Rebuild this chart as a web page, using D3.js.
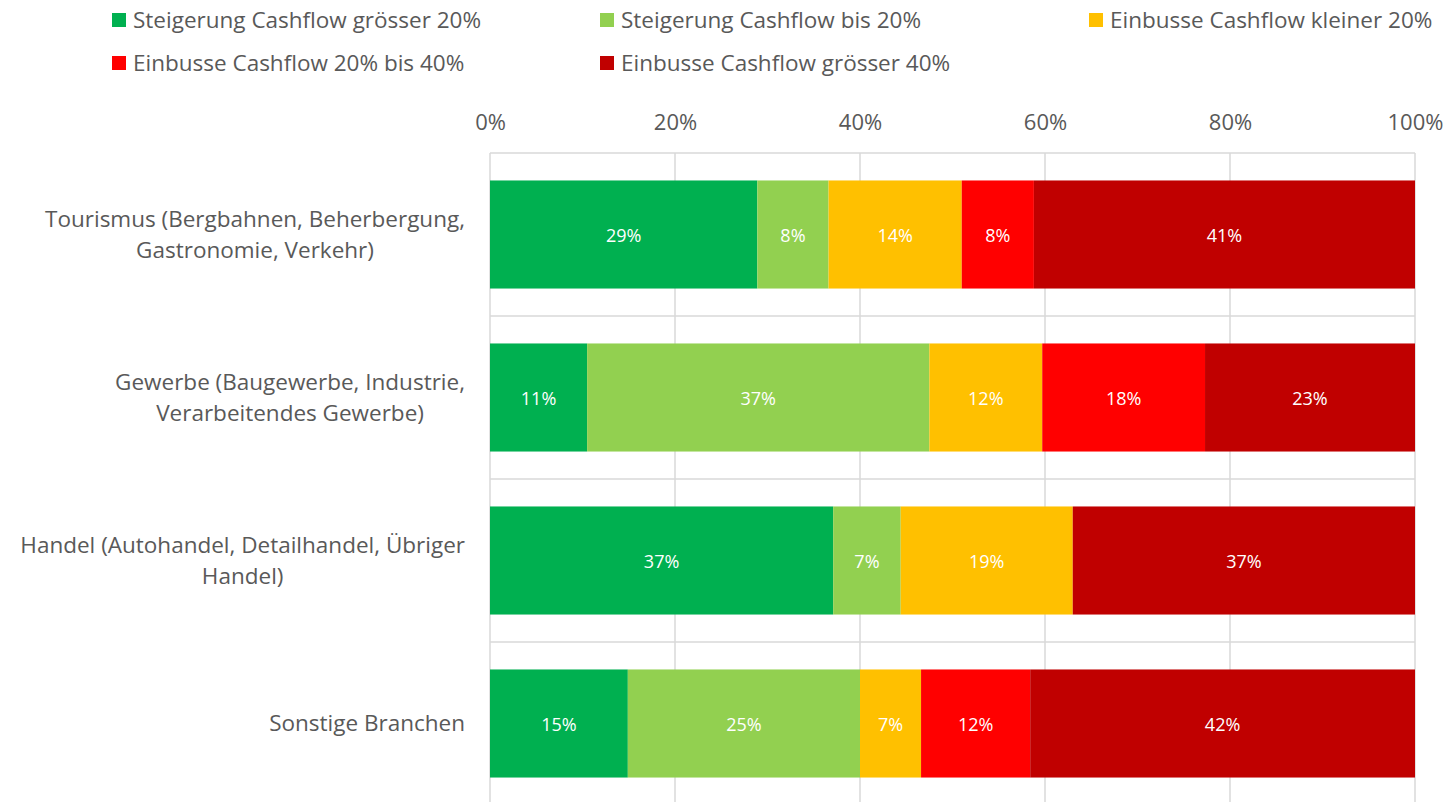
<!DOCTYPE html>
<html lang="de">
<head>
<meta charset="UTF-8">
<title>Cashflow nach Branchen</title>
<script src="https://d3js.org/d3.v7.min.js"></script>
<style>
  body { margin: 0; background: #fff; }
  text { font-family: "Open Sans", sans-serif; fill: #595959; }
</style>
</head>
<body>
<script>

// data (percent of companies)
var categories = [
    ["Tourismus (Bergbahnen, Beherbergung,", "Gastronomie, Verkehr)"],
    ["Gewerbe (Baugewerbe, Industrie,", "Verarbeitendes Gewerbe)"],
    ["Handel (Autohandel, Detailhandel, Übriger", "Handel)"],
    ["Sonstige Branchen"]
];
var seriesNames = [
    "Steigerung Cashflow grösser 20%",
    "Steigerung Cashflow bis 20%",
    "Einbusse Cashflow kleiner 20%",
    "Einbusse Cashflow 20% bis 40%",
    "Einbusse Cashflow grösser 40%"
];
var steigerungGross = [28.9, 10.5, 37.1, 14.9];
var steigerungBis20 = [7.7, 37.0, 7.3, 25.1];
var einbusseKlein   = [14.4, 12.2, 18.6, 6.6];
var einbusse20bis40 = [7.8, 17.6, 0, 11.8];
var einbusseGross   = [41.2, 22.7, 37.0, 41.6];
var tickValues = [0, 20, 40, 60, 80, 100];

var colors = ["#00B050", "#92D050", "#FFC000", "#FF0000", "#C00000"];

var W = 1449, H = 802;
var svg = d3.select("body").append("svg")
    .attr("width", W)
    .attr("height", H);

var x = d3.scaleLinear().domain([0, 100]).range([490, 1415]);
var y = d3.scaleBand()
    .domain(d3.range(categories.length))
    .range([153, 805])
    .paddingInner(0.337)
    .paddingOuter(0.337 / 2);

var seriesData = [steigerungGross, steigerungBis20, einbusseKlein, einbusse20bis40, einbusseGross];

// rows for stack
var rows = categories.map(function (c, i) {
    var r = { idx: i };
    seriesData.forEach(function (s, k) { r["s" + k] = s[i]; });
    return r;
});
var stack = d3.stack().keys(seriesData.map(function (s, k) { return "s" + k; }));
var layers = stack(rows);

// gridlines
var grid = svg.append("g");
grid.selectAll(".vgrid")
    .data(tickValues)
    .enter().append("line")
    .attr("x1", function (d) { return x(d); })
    .attr("x2", function (d) { return x(d); })
    .attr("y1", 153).attr("y2", 805)
    .attr("stroke", "#d9d9d9").attr("stroke-width", 1.5);

var bounds = d3.range(categories.length + 1).map(function (i) { return 153 + i * y.step(); });
grid.selectAll(".hgrid")
    .data(bounds)
    .enter().append("line")
    .attr("x1", 490).attr("x2", 1415)
    .attr("y1", function (d) { return d; })
    .attr("y2", function (d) { return d; })
    .attr("stroke", "#d9d9d9").attr("stroke-width", 1.5);

// top axis labels
var xAxis = d3.axisTop(x)
    .tickValues(tickValues)
    .tickSize(0)
    .tickPadding(0)
    .tickFormat(function (d) { return d + "%"; });
var ax = svg.append("g").attr("transform", "translate(0,130)").call(xAxis);
ax.select(".domain").remove();
ax.selectAll("text")
    .attr("font-family", "Open Sans")
    .attr("font-size", 22)
    .attr("fill", "#595959");

// bars
var layerG = svg.selectAll(".layer")
    .data(layers)
    .enter().append("g")
    .attr("fill", function (d, k) { return colors[k]; });

layerG.selectAll("rect")
    .data(function (d) { return d; })
    .enter().append("rect")
    .attr("x", function (d) { return x(d[0]); })
    .attr("width", function (d) { return x(d[1]) - x(d[0]); })
    .attr("y", function (d) { return y(d.data.idx); })
    .attr("height", y.bandwidth());

layerG.selectAll("text")
    .data(function (d) { return d.filter(function (e) { return e[1] - e[0] > 0; }); })
    .enter().append("text")
    .attr("x", function (d) { return (x(d[0]) + x(d[1])) / 2; })
    .attr("y", function (d) { return y(d.data.idx) + y.bandwidth() / 2 + 1; })
    .attr("dy", "0.35em")
    .attr("text-anchor", "middle")
    .style("fill", "#fff")
    .attr("font-size", 18)
    .text(function (d) { return Math.round(d[1] - d[0]) + "%"; });

// category labels, lines centred on the widest line, right edge at 465
var catG = svg.selectAll(".cat")
    .data(categories)
    .enter().append("text")
    .attr("font-size", 22.5)
    .attr("text-anchor", "middle");

catG.each(function (lines, i) {
    var t = d3.select(this);
    var lh = 31;
    var cy = y(i) + y.bandwidth() / 2;
    var y0 = cy - (lines.length - 1) * lh / 2;
    lines.forEach(function (l, j) {
        t.append("tspan").attr("y", y0 + j * lh).attr("dy", "0.35em").text(l);
    });
    var maxW = 0;
    t.selectAll("tspan").each(function () {
        maxW = Math.max(maxW, this.getComputedTextLength());
    });
    t.selectAll("tspan").attr("x", 465 - maxW / 2);
});

// legend
var legX = [112, 600, 1089];
var legY = [28, 71];
var leg = svg.selectAll(".leg")
    .data(seriesNames)
    .enter().append("g")
    .attr("transform", function (d, k) {
        return "translate(" + legX[k % 3] + "," + legY[Math.floor(k / 3)] + ")";
    });
leg.append("rect")
    .attr("x", 0).attr("y", -15)
    .attr("width", 14).attr("height", 14)
    .attr("fill", function (d, k) { return colors[k]; });
leg.append("text")
    .attr("x", 21)
    .attr("font-size", 22.5)
    .text(function (d) { return d; });

</script>
</body>
</html>
